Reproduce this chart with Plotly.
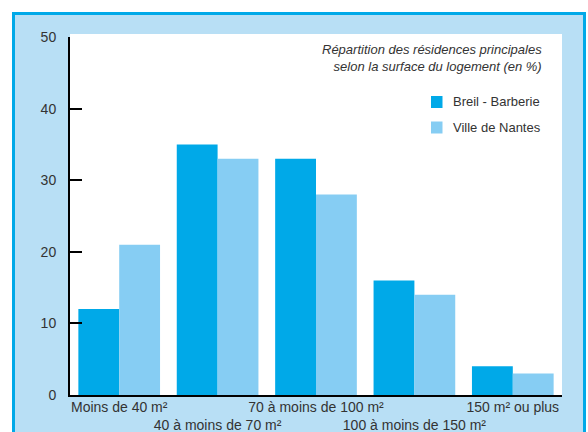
import plotly.graph_objects as go

# data
categories = ["Moins de 40 m²", "40 à moins de 70 m²", "70 à moins de 100 m²",
              "100 à moins de 150 m²", "150 m² ou plus"]
series_names = ["Breil - Barberie", "Ville de Nantes"]
breil = [12, 35, 33, 16, 4]
nantes = [21, 33, 28, 14, 3]
y_ticks = [0, 10, 20, 30, 40, 50]

DARK = "#00a9e8"
LIGHT = "#86cdf3"
BG = "#b8dff5"
TXT = "#333333"
FONT = "Liberation Sans, Arial, sans-serif"

W, H = 588, 432
ML, MR, MT, MB = 70, 26, 37, 37
pw = W - ML - MR
ph = H - MT - MB


def px_x(p):
    return (p - ML) / pw


def px_y(p):
    return (H - MB - p) / ph


# alternate the labels on two rows
ticktext = [c if i % 2 == 0 else "<br>" + c for i, c in enumerate(categories)]

fig = go.Figure()
fig.add_trace(go.Bar(x=categories, y=breil, name=series_names[0],
                     marker=dict(color=DARK, line=dict(width=0))))
fig.add_trace(go.Bar(x=categories, y=nantes, name=series_names[1],
                     marker=dict(color=LIGHT, line=dict(width=0))))

# hand made legend (squares + labels)
legend_shapes = []
legend_notes = []
for i, (name, col) in enumerate(zip(series_names, [DARK, LIGHT])):
    cy = 102 + i * 25.5
    legend_shapes.append(dict(type="rect", xref="paper", yref="paper",
                              x0=px_x(431), x1=px_x(442.5), y0=px_y(cy + 6), y1=px_y(cy - 6),
                              fillcolor=col, line=dict(width=0)))
    legend_notes.append(dict(text=name, xref="paper", yref="paper",
                             x=px_x(451), y=px_y(cy), xanchor="left", yanchor="middle",
                             showarrow=False, font=dict(size=13, color=TXT, family=FONT)))

fig.update_layout(
    width=W, height=H,
    margin=dict(l=ML, r=MR, t=MT, b=MB),
    paper_bgcolor="white",
    plot_bgcolor="white",
    barmode="group",
    bargap=0.17,
    bargroupgap=0,
    font=dict(family=FONT, size=14, color=TXT),
    showlegend=False,
    xaxis=dict(tickmode="array", tickvals=categories, ticktext=ticktext,
               showline=True, linecolor="black", linewidth=2,
               ticks="", showgrid=False, tickangle=0, automargin=False,
               tickfont=dict(size=14), ticklabelstandoff=-2),
    yaxis=dict(range=[0, 50], tickvals=y_ticks, showline=True, linecolor="black",
               linewidth=2, ticks="inside", ticklen=12, tickwidth=2, tickcolor="black",
               showgrid=False, zeroline=False, ticklabelstandoff=9, automargin=False,
               tickfont=dict(size=14)),
    shapes=[
        # outer frame
        dict(type="rect", xref="paper", yref="paper", layer="below",
             x0=px_x(13.5), x1=px_x(584.5), y0=px_y(445), y1=px_y(13.5),
             fillcolor=BG, line=dict(color=DARK, width=3)),
        # white plotting panel
        dict(type="rect", xref="paper", yref="paper", layer="below",
             x0=0, x1=1, y0=0, y1=px_y(34),
             fillcolor="white", line=dict(width=0)),
    ] + legend_shapes,
    annotations=[
        dict(text="<i>Répartition des résidences principales</i><br><i>selon la surface du logement (en %)</i>",
             xref="paper", yref="paper", x=px_x(544), y=px_y(40), xanchor="right",
             yanchor="top", align="right", showarrow=False,
             font=dict(size=13, color=TXT, family=FONT)),
    ] + legend_notes,
)

# page body has a default 8px margin, drop it so the figure sits at 0,0
fig.write_html("out.html", config={"displayModeBar": False},
               post_script="document.body.style.margin='0';")
